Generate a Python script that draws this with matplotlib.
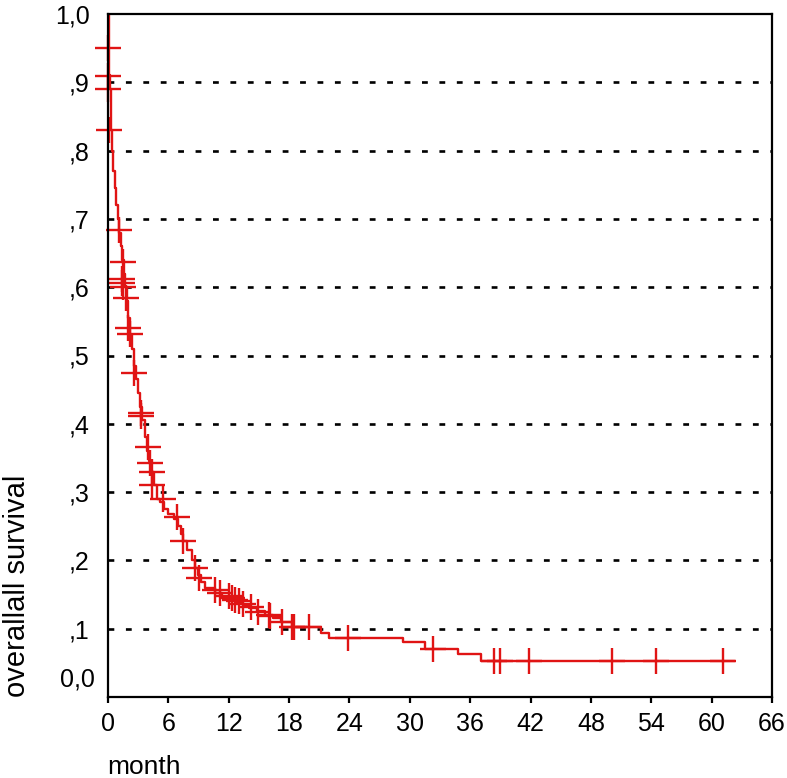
import numpy as np
import matplotlib.pyplot as plt

plt.rcParams['font.family'] = ['Liberation Sans', 'DejaVu Sans']

# Kaplan-Meier steps (time in months, survival after the drop)
event_times = [0.0, 0.05, 0.1, 0.15, 0.25, 0.35, 0.5, 0.65, 0.8, 0.95, 1.1, 1.25,
               1.4, 1.55, 1.7, 1.85, 2.0, 2.2, 2.4, 2.6, 2.8, 3.0, 3.2, 3.4, 3.7,
               3.9, 4.1, 4.3, 4.6, 4.9, 5.2, 5.6, 6.0, 6.6, 7.0, 7.3, 7.5, 7.9,
               8.3, 8.6, 8.9, 9.2, 9.6, 10.6, 11.3, 12.0, 12.8, 13.4, 14.0, 14.8,
               15.6, 16.4, 17.2, 18.3, 21.2, 22.0, 29.3, 31.5, 34.8, 37.1, 62.2]
survival = [1.0, 0.95, 0.91, 0.89, 0.83, 0.80, 0.77, 0.745, 0.72, 0.70, 0.68, 0.66,
            0.64, 0.62, 0.60, 0.58, 0.555, 0.53, 0.51, 0.485, 0.465, 0.445, 0.425,
            0.405, 0.38, 0.36, 0.345, 0.33, 0.31, 0.29, 0.285, 0.275, 0.268, 0.26,
            0.25, 0.238, 0.228, 0.215, 0.20, 0.189, 0.178, 0.168, 0.16, 0.152,
            0.147, 0.142, 0.138, 0.134, 0.13, 0.126, 0.12, 0.115, 0.11, 0.102,
            0.093, 0.086, 0.081, 0.070, 0.063, 0.053, 0.053]

# censored observations
censor_times = [0.0, 0.0, 0.0, 0.1, 1.1, 1.5, 1.4, 1.4, 1.5, 1.8, 2.0, 2.2, 2.6,
                3.3, 3.3, 4.0, 4.2, 4.4, 4.4, 5.5, 6.9, 7.5, 8.6, 9.0, 10.6, 11.1,
                12.0, 12.3, 12.6, 13.0, 13.4, 14.2, 14.9, 16.0, 16.1, 17.3, 18.3,
                18.5, 20.0, 23.9, 32.3, 38.4, 39.0, 41.8, 50.1, 54.5, 61.1]
censor_surv = [0.95, 0.909, 0.89, 0.83, 0.684, 0.637, 0.612, 0.606, 0.60, 0.584,
               0.54, 0.531, 0.474, 0.416, 0.411, 0.366, 0.343, 0.329, 0.31, 0.29,
               0.264, 0.228, 0.189, 0.174, 0.157, 0.152, 0.148, 0.145, 0.142, 0.14,
               0.136, 0.132, 0.124, 0.12, 0.118, 0.11, 0.102, 0.102, 0.102, 0.086,
               0.070, 0.053, 0.053, 0.053, 0.053, 0.053, 0.053]

x_ticks = np.arange(0, 67, 6)
y_ticks = [0.1, 0.2, 0.3, 0.4, 0.5, 0.6, 0.7, 0.8, 0.9, 1.0]
y_labels = [',1', ',2', ',3', ',4', ',5', ',6', ',7', ',8', ',9', '1,0']
grid_levels = [0.1, 0.2, 0.3, 0.4, 0.5, 0.6, 0.7, 0.8, 0.9]

red = '#e01414'

fig = plt.figure(figsize=(7.87, 7.78), dpi=100)
ax = fig.add_axes([108/787, 81/778, 664/787, 683/778])

# dashed reference lines
for g in grid_levels:
    ax.axhline(g, color='black', linestyle=(0, (2.2, 4.4)), lw=1.9, zorder=1)

ax.step(event_times, survival, where='post', color=red, lw=1.7, zorder=3)
ax.plot(censor_times, censor_surv, linestyle='none', marker='+', color=red,
        markersize=19, markeredgewidth=1.7, zorder=3, clip_on=False)

ax.set_xlim(0, 66)
ax.set_ylim(0, 1.0)
ax.set_xticks(x_ticks)
ax.set_xticklabels([str(v) for v in x_ticks])
ax.set_yticks(y_ticks)
ax.set_yticklabels(y_labels)

for s in ax.spines.values():
    s.set_linewidth(1.6)
    s.set_zorder(4)

ax.tick_params(axis='x', direction='out', length=4, width=1.6, pad=7, labelsize=18)
ax.tick_params(axis='y', length=0, pad=13, labelsize=18)

# SPSS puts the zero label a little above the axis
ax.text(-13/664*66, 0.025, '0,0', ha='right', va='center', fontsize=18)

fig.text(107/787, 1 - 767/778, 'month', ha='left', va='center', fontsize=19)
fig.text(17/787, 1 - 697/778, 'overallall survival', rotation=90,
         ha='center', va='bottom', fontsize=21)

plt.savefig('out.png', dpi=100)
